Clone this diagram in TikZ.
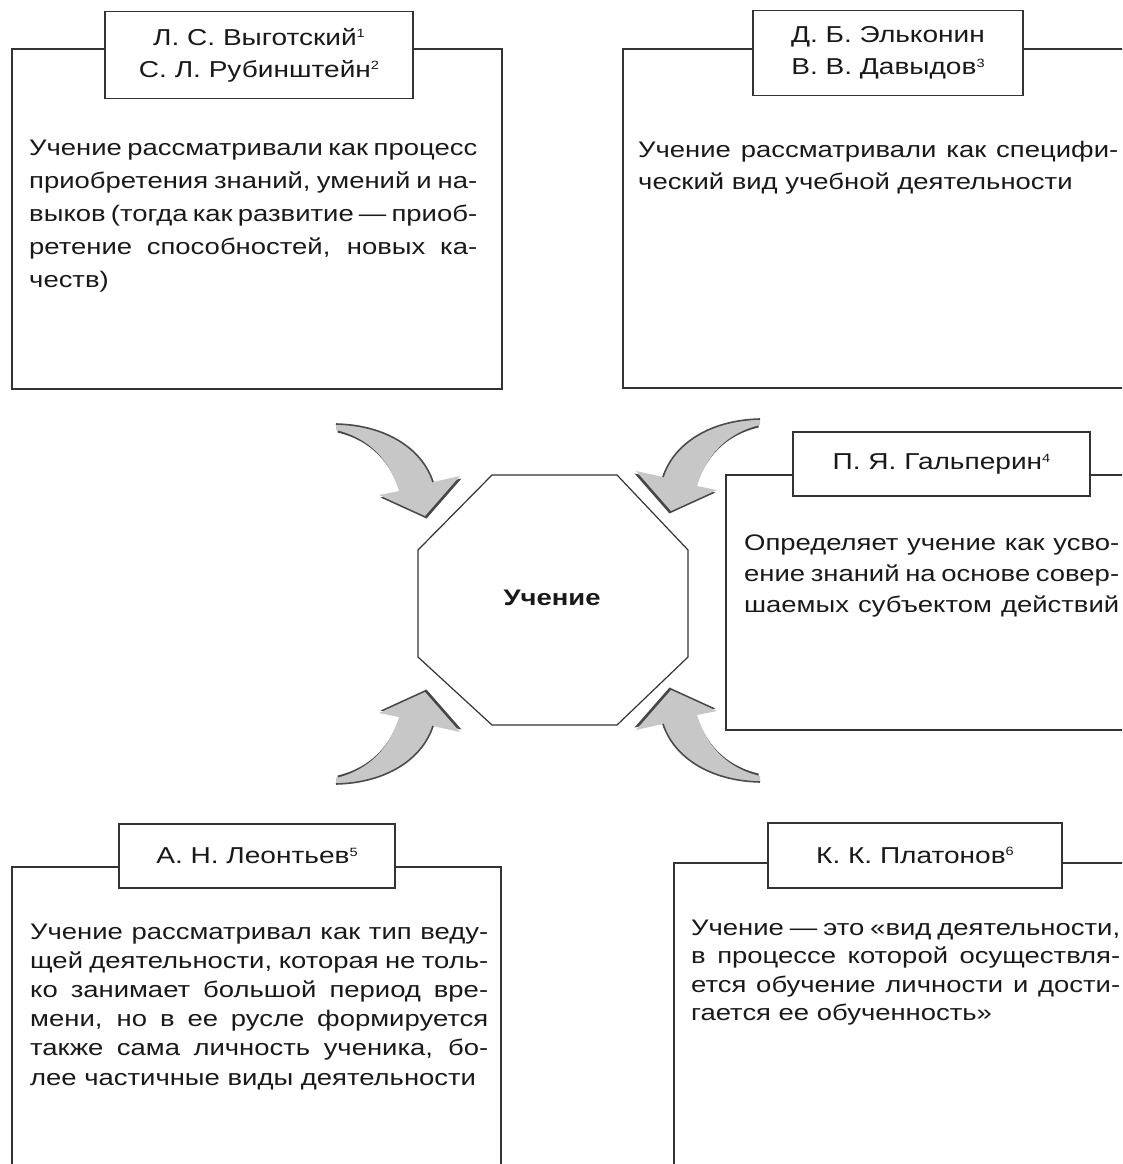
\documentclass[tikz,border=0pt]{standalone}
\usepackage{fontspec}
\setmainfont[FakeStretch=1.22]{Liberation Sans}
\newlength\jlw
\newcommand\jl[1]{\hbox to \jlw{#1}}
\newcommand\bodytext[3]{\vtop{\setlength\jlw{#1}\baselineskip=#2\lineskiplimit=-100pt\lineskip=0pt #3}}
\newcommand\sups[1]{\raisebox{7.5pt}{\fontsize{12}{12}\selectfont #1}}
\newcommand\arrowoutline{(336,424) .. controls (385,425) and (422,448) .. (433,482) -- (460,476) -- (425,516) -- (379,495) -- (399,491) .. controls (390,461) and (370,438) .. (336,430) -- cycle}
\newcommand\drawbentarrow{%
  \fill[shadowc, shift={(1.5,2.5)}] \arrowoutline;
  \fill[arrowc] \arrowoutline;
  \draw[black!70, line width=1.6pt] (336,424) .. controls (385,425) and (422,448) .. (433,482);
}
\begin{document}
\begin{tikzpicture}[x=1pt,y=-1pt,
  frame/.style={draw=black!80, line width=1.3pt},
  hdr/.style={draw=black!80, line width=1.3pt, fill=white, align=center, inner sep=0pt,
    text=black!90, font=\fontsize{23}{32}\selectfont},
  body/.style={anchor=base west, inner sep=0pt, text=black!90, font=\fontsize{22.5}{32}\selectfont},
  octline/.style={draw=black!80, line width=1.2pt},
  arrowc/.style={fill=black!22},
  shadowc/.style={fill=black!72}]
\useasboundingbox (0,0) rectangle (1122,1164);
\clip (0,0) rectangle (1122,1164);
\fill[white] (0,0) rectangle (1122,1164);

% ---- top left
\draw[frame] (12,49) rectangle (502,389);
\node[hdr, minimum width=308pt, minimum height=87pt] (h1) at (259,55)
  {Л. С. Выготский\sups{1}\\С. Л. Рубинштейн\sups{2}};
\node[body] (b1) at (29,155) {\bodytext{448pt}{33pt}{%
  \jl{Учение рассматривали как процесс}
  \jl{приобретения знаний, умений и на-}
  \jl{выков (тогда как развитие — приоб-}
  \jl{ретение способностей, новых ка-}
  \hbox{честв)}}};

% ---- top right
\draw[frame] (623,49) rectangle (1140,388);
\node[hdr, minimum width=270pt, minimum height=85pt] (h2) at (888,53)
  {Д. Б. Эльконин\\В. В. Давыдов\sups{3}};
\node[body] (b2) at (638,157) {\bodytext{480pt}{32pt}{%
  \jl{Учение рассматривали как специфи-}
  \hbox{ческий вид учебной деятельности}}};

% ---- Galperin
\draw[frame] (726,475) rectangle (1140,730);
\node[hdr, minimum width=297pt, minimum height=64pt] (h3) at (941.5,464)
  {П. Я. Гальперин\sups{4}};
\node[body] (b3) at (744,550) {\bodytext{375pt}{31pt}{%
  \jl{Определяет учение как усво-}
  \jl{ение знаний на основе совер-}
  \jl{шаемых субъектом действий}}};

% ---- Leontiev
\draw[frame] (12,867) rectangle (501,1190);
\node[hdr, minimum width=276pt, minimum height=64pt] (h4) at (257,856)
  {А. Н. Леонтьев\sups{5}};
\node[body] (b4) at (30,939) {\bodytext{458pt}{29.2pt}{%
  \jl{Учение рассматривал как тип веду-}
  \jl{щей деятельности, которая не толь-}
  \jl{ко занимает большой период вре-}
  \jl{мени, но в ее русле формируется}
  \jl{также сама личность ученика, бо-}
  \hbox{лее частичные виды деятельности}}};

% ---- Platonov
\draw[frame] (674,863) rectangle (1140,1190);
\node[hdr, minimum width=294pt, minimum height=65pt] (h5) at (915,855.5)
  {К. К. Платонов\sups{6}};
\node[body] (b5) at (691,935) {\bodytext{429pt}{28.5pt}{%
  \jl{Учение — это «вид деятельности,}
  \jl{в процессе которой осуществля-}
  \jl{ется обучение личности и дости-}
  \hbox{гается ее обученность»}}};

% ---- centre
\draw[octline] (492,475) -- (617,475) -- (688,550) -- (688,657) -- (617,725) -- (492,725) -- (418,657) -- (418,550) -- cycle;
\node[font=\bfseries\fontsize{22.5}{26}\selectfont, text=black!90] (uch) at (552,598) {Учение};

% ---- arrows
\begin{scope}
  \drawbentarrow
\end{scope}
\begin{scope}[shift={(1096,-5)}, xscale=-1]
  \drawbentarrow
\end{scope}
\begin{scope}[shift={(0,1208)}, yscale=-1]
  \drawbentarrow
\end{scope}
\begin{scope}[shift={(1096,1206)}, xscale=-1, yscale=-1]
  \drawbentarrow
\end{scope}
\end{tikzpicture}
\end{document}
